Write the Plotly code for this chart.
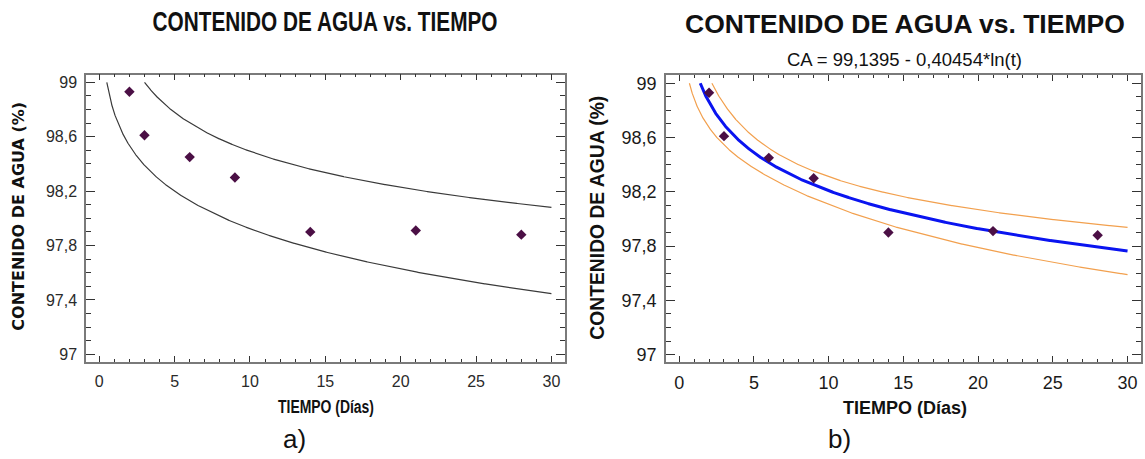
import numpy as np
import plotly.graph_objects as go

# Observed water content over storage time
tiempo = [2, 3, 6, 9, 14, 21, 28]
contenido = [98.93, 98.61, 98.45, 98.30, 97.90, 97.91, 97.88]

# Logarithmic model CA = a - b*ln(t)
coef_a = 99.1395
coef_b = 0.40454
t_crit = 2.5706  # Student t, 95 %, n-2 = 5 d.f.

x_ticks = [0, 5, 10, 15, 20, 25, 30]
y_ticks = [97.0, 97.4, 97.8, 98.2, 98.6, 99.0]
y_ticktext = ["97", "97,4", "97,8", "98,2", "98,6", "99"]

W, H = 1145, 459


def px_x(p):
    return p / W


def px_y(p):
    return 1 - p / H


# regression statistics in ln(t)
lx = np.log(np.array(tiempo, dtype=float))
yobs = np.array(contenido)
n = len(lx)
resid = yobs - (coef_a - coef_b * lx)
s = np.sqrt(np.sum(resid ** 2) / (n - 2))
lx_mean = lx.mean()
sxx = np.sum((lx - lx_mean) ** 2)

t_grid = np.geomspace(0.3, 30, 3000)
lg = np.log(t_grid)
fit = coef_a - coef_b * lg
lev = 1 / n + (lg - lx_mean) ** 2 / sxx
half_conf = t_crit * s * np.sqrt(lev)
half_pred = t_crit * s * np.sqrt(1 + lev)


def clip(v):
    v = v.copy()
    v[v > 99.0] = np.nan
    return v


fig = go.Figure()

marker = dict(symbol="diamond", size=8, color="#4b0f45")

# a) prediction limits
for band in (fit + half_pred, fit - half_pred):
    fig.add_trace(go.Scatter(x=t_grid, y=clip(band), mode="lines",
                             line=dict(color="#3a3a3a", width=1.2),
                             xaxis="x", yaxis="y", showlegend=False,
                             hoverinfo="skip"))
fig.add_trace(go.Scatter(x=tiempo, y=contenido, mode="markers", marker=marker,
                         xaxis="x", yaxis="y", showlegend=False))

# b) fitted model with confidence limits
for band in (fit + half_conf, fit - half_conf):
    fig.add_trace(go.Scatter(x=t_grid, y=clip(band), mode="lines",
                             line=dict(color="#f2a04e", width=1.2),
                             xaxis="x2", yaxis="y2", showlegend=False,
                             hoverinfo="skip"))
fig.add_trace(go.Scatter(x=t_grid, y=clip(fit), mode="lines",
                         line=dict(color="#0a14f0", width=3),
                         xaxis="x2", yaxis="y2", showlegend=False,
                         hoverinfo="skip"))
fig.add_trace(go.Scatter(x=tiempo, y=contenido, mode="markers", marker=marker,
                         xaxis="x2", yaxis="y2", showlegend=False))

narrow = "Liberation Sans Narrow, Arial Narrow, Liberation Sans, sans-serif"
arial = "Liberation Sans, Arial, sans-serif"
frame = "#7a7a7a"


def xaxis(domain, anchor, font):
    return dict(domain=domain, anchor=anchor, range=[-0.88, 30.9],
                tickmode="array", tickvals=x_ticks, ticks="inside",
                ticklen=6, tickcolor="#333", tickwidth=1,
                minor=dict(tickmode="linear", tick0=0, dtick=1, ticks="inside",
                           ticklen=3, tickcolor="#333", tickwidth=1),
                showline=True, linecolor=frame, linewidth=1.5, mirror="ticks",
                showgrid=False, zeroline=False, tickfont=font,
                ticklabelstandoff=4)


def yaxis(domain, anchor, font):
    return dict(domain=domain, anchor=anchor, range=[96.945, 99.057],
                tickmode="array", tickvals=y_ticks, ticktext=y_ticktext,
                ticks="inside", ticklen=9, tickcolor="#333", tickwidth=1,
                minor=dict(tickmode="linear", tick0=97, dtick=0.1,
                           ticks="inside", ticklen=5, tickcolor="#333",
                           tickwidth=1),
                showline=True, linecolor=frame, linewidth=1.5, mirror="ticks",
                showgrid=False, zeroline=False, tickfont=font,
                ticklabelstandoff=4)


left_tick_font = dict(family=narrow, size=16, color="#2a2a2a")
right_tick_font = dict(family=arial, size=18, color="#1a1a1a")

fig.update_layout(
    width=W, height=H,
    margin=dict(l=0, r=0, t=0, b=0),
    paper_bgcolor="white", plot_bgcolor="white",
    xaxis=xaxis([px_x(86), px_x(565)], "y", left_tick_font),
    yaxis=yaxis([px_y(363.8), px_y(73.3)], "x", left_tick_font),
    xaxis2=xaxis([px_x(666), px_x(1141)], "y2", right_tick_font),
    yaxis2=yaxis([px_y(364), px_y(74.3)], "x2", right_tick_font),
)

ann = [
    dict(text="CONTENIDO DE AGUA vs. TIEMPO", x=px_x(325), y=px_y(20),
         font=dict(family=narrow, size=27, color="#111", weight="bold")),
    dict(text="CONTENIDO DE AGUA vs. TIEMPO", x=px_x(905), y=px_y(22),
         font=dict(family=arial, size=26.5, color="#111", weight="bold")),
    dict(text="CA = 99,1395 - 0,40454*ln(t)", x=px_x(904), y=px_y(58),
         font=dict(family=arial, size=18.5, color="#111")),
    dict(text="CONTENIDO DE AGUA (%)", x=px_x(19), y=px_y(217),
         textangle=-90, font=dict(family="DejaVu Sans, sans-serif", size=16,
                                  color="#111", weight="bold")),
    dict(text="CONTENIDO DE AGUA (%)", x=px_x(598), y=px_y(218),
         textangle=-90, font=dict(family=arial, size=19.3, color="#111",
                                  weight="bold")),
    dict(text="TIEMPO (Días)", x=px_x(326), y=px_y(409),
         font=dict(family=narrow, size=18, color="#111", weight="bold")),
    dict(text="TIEMPO (Días)", x=px_x(905), y=px_y(410),
         font=dict(family=arial, size=18, color="#111", weight="bold")),
    dict(text="a)", x=px_x(294), y=px_y(442),
         font=dict(family=arial, size=26, color="#111")),
    dict(text="b)", x=px_x(839), y=px_y(442),
         font=dict(family=arial, size=26, color="#111")),
]
for a in ann:
    a.update(xref="paper", yref="paper", showarrow=False,
             xanchor="center", yanchor="middle")
fig.update_layout(annotations=ann)

# condensed lettering for panel a) headings (annotation index -> width px)
post = """
var gd = document.getElementById('{plot_id}');
function condense() {
  var widths = {'0': 345, '5': 96};
  gd.querySelectorAll('g.annotation').forEach(function (g) {
    var w = widths[g.getAttribute('data-index')];
    if (w === undefined) return;
    var t = g.querySelector('text');
    if (!t) return;
    t.setAttribute('lengthAdjust', 'spacingAndGlyphs');
    t.setAttribute('textLength', w);
  });
}
condense();
gd.on('plotly_afterplot', condense);
"""

fig.write_html("out.html", post_script=post)
